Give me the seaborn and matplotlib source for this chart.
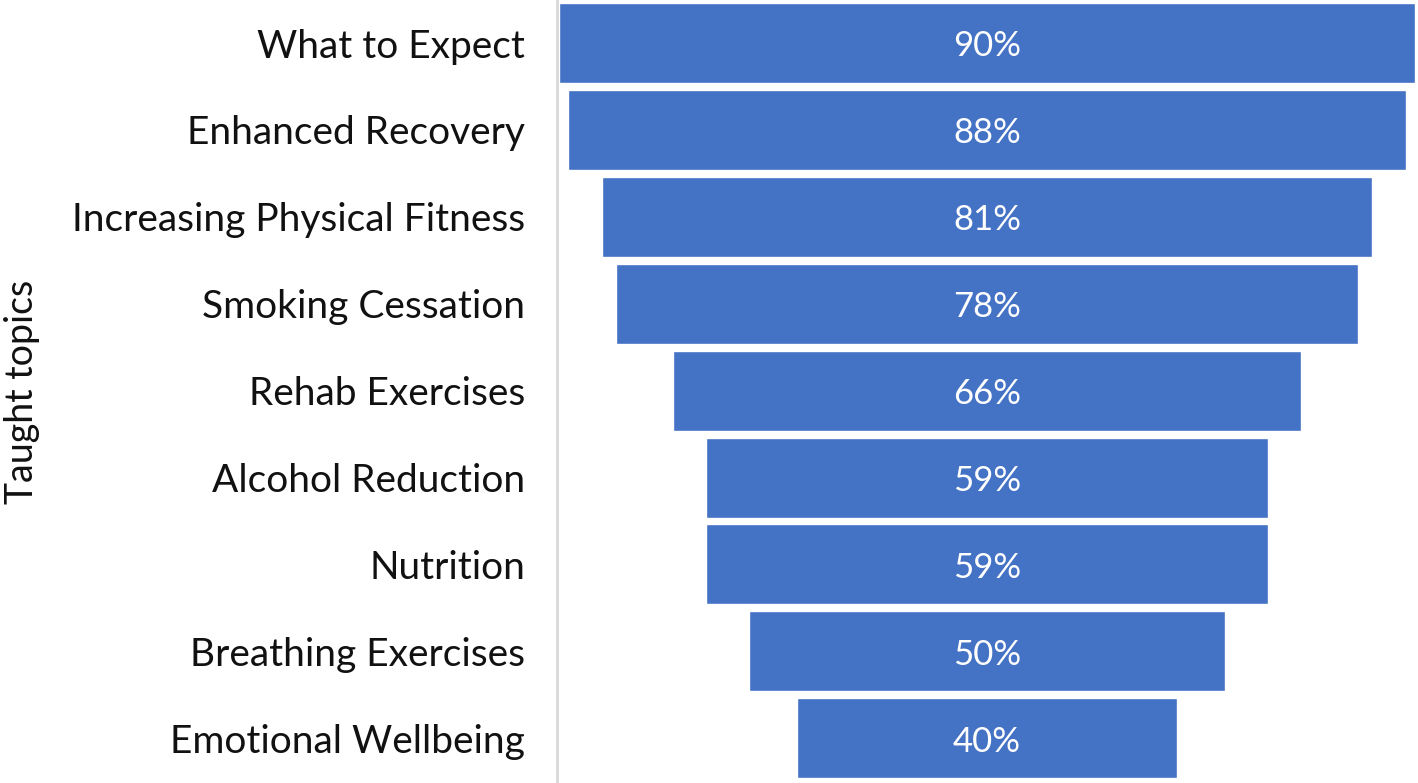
import numpy as np
import pandas as pd
import seaborn as sns
import matplotlib.pyplot as plt

# chart data
topics = ["What to Expect", "Enhanced Recovery", "Increasing Physical Fitness",
          "Smoking Cessation", "Rehab Exercises", "Alcohol Reduction",
          "Nutrition", "Breathing Exercises", "Emotional Wellbeing"]
percent = [90, 88, 81, 78, 66, 59, 59, 50, 40]

df = pd.DataFrame({"topic": topics, "percent": percent})

sns.set_style("white")
plt.rcParams["font.family"] = ["Lato", "DejaVu Sans"]

fig = plt.figure(figsize=(14.18, 7.83), dpi=100)
ax = fig.add_axes([557 / 1418, 0, 1 - 557 / 1418, 1])

sns.barplot(data=df, x="percent", y="topic", orient="h", color="#4472C4",
            saturation=1, width=0.92, ax=ax)

# centre each bar to make the funnel
top = max(percent)
for patch, v in zip(ax.patches, percent):
    patch.set_x((top - v) / 2)
    ax.text((top - v) / 2 + v / 2, patch.get_y() + patch.get_height() / 2 + 0.04,
            f"{v}%", color="white", ha="center", va="center", fontsize=25)

ax.set_xlim(-0.2, 90.3)
ax.set_ylim(8.515, -0.495)
ax.set_xticks([])
ax.set_xlabel("")
ax.set_ylabel("Taught topics", fontsize=27, color="#111111")
ax.yaxis.set_label_coords(-0.601, 0.5)
ax.tick_params(axis="y", length=0, pad=23, labelsize=28, labelcolor="#111111")

for s in ["top", "right", "bottom"]:
    ax.spines[s].set_visible(False)
ax.spines["left"].set_color("#d9d9d9")
ax.spines["left"].set_linewidth(2)

fig.savefig("out.png", dpi=100)
